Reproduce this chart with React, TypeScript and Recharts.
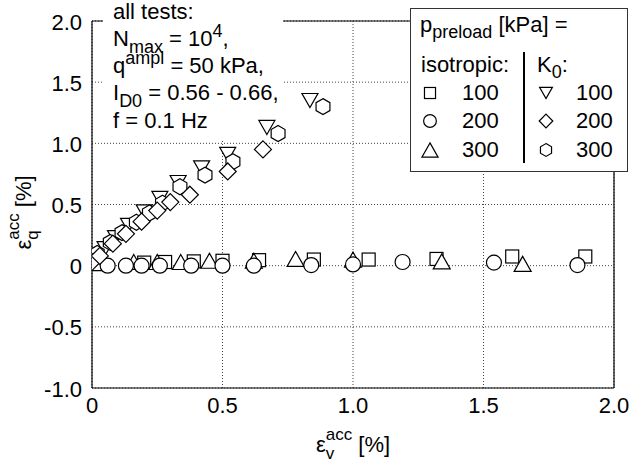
import React from 'react';
import { ScatterChart, Scatter, XAxis, YAxis, CartesianGrid, Label } from 'recharts';

const FONT = '"Liberation Sans", Arial, Helvetica, sans-serif';

const xTicks = [0, 0.5, 1, 1.5, 2];
const xTickLabels = ['0', '0.5', '1.0', '1.5', '2.0'];
const yTicks = [-1, -0.5, 0, 0.5, 1, 1.5, 2];
const yTickLabels = ['-1.0', '-0.5', '0', '0.5', '1.0', '1.5', '2.0'];

// isotropic preloading
const iso100: [number, number][] = [
  [0.03, 0.02], [0.2, 0.025], [0.28, 0.03], [0.39, 0.035], [0.5, 0.04], [0.64, 0.045],
  [0.85, 0.05], [1.06, 0.05], [1.32, 0.055], [1.61, 0.075], [1.89, 0.075],
];
const iso200: [number, number][] = [
  [0.06, 0.0], [0.13, 0.0], [0.19, 0.0], [0.26, 0.0], [0.38, 0.0], [0.5, 0.0],
  [0.62, 0.0], [0.84, 0.005], [1.0, 0.01], [1.19, 0.03], [1.54, 0.025], [1.86, 0.005],
];
const iso300: [number, number][] = [
  [0.02, 0.02], [0.16, 0.03], [0.25, 0.03], [0.34, 0.03], [0.45, 0.04], [0.62, 0.04],
  [0.78, 0.055], [1.0, 0.05], [1.34, 0.035], [1.65, 0.015],
];
// K0 preloading
const k0100: [number, number][] = [
  [0.01, 0.05], [0.05, 0.14], [0.09, 0.23], [0.14, 0.33], [0.2, 0.44], [0.26, 0.55],
  [0.33, 0.68], [0.42, 0.8], [0.52, 0.91], [0.67, 1.13], [0.835, 1.35],
];
const k0200: [number, number][] = [
  [0.0, 0.03], [0.03, 0.08], [0.08, 0.18], [0.13, 0.26], [0.19, 0.36], [0.25, 0.45],
  [0.3, 0.52], [0.375, 0.58], [0.52, 0.77], [0.655, 0.95],
];
const k0300: [number, number][] = [
  [0.02, 0.1], [0.07, 0.19], [0.115, 0.27], [0.17, 0.355], [0.22, 0.43], [0.27, 0.51],
  [0.337, 0.645], [0.433, 0.74], [0.54, 0.85], [0.713, 1.08], [0.885, 1.3],
];

const toPts = (a: [number, number][]) => a.map(([x, y]) => ({ x, y }));

type Kind = 'square' | 'circle' | 'triUp' | 'triDown' | 'diamond' | 'hexagon';
const SW = 1.2;

function Sym({ kind, cx, cy, s = 1 }: { kind: Kind; cx: number; cy: number; s?: number }) {
  const common = { fill: '#fff', stroke: '#000', strokeWidth: SW };
  switch (kind) {
    case 'square': {
      const h = 6.5 * s;
      return <rect x={cx - h} y={cy - h} width={2 * h} height={2 * h} {...common} />;
    }
    case 'circle':
      return <circle cx={cx} cy={cy} r={7.5 * s} {...common} />;
    case 'triUp': {
      const w = 8.5 * s, h = 7.5 * s;
      return <polygon points={`${cx},${cy - h} ${cx + w},${cy + h} ${cx - w},${cy + h}`} {...common} />;
    }
    case 'triDown': {
      const w = 8 * s, h = 7 * s;
      return <polygon points={`${cx - w},${cy - h} ${cx + w},${cy - h} ${cx},${cy + h}`} {...common} />;
    }
    case 'diamond': {
      const d = 8.5 * s;
      return <polygon points={`${cx},${cy - d} ${cx + d},${cy} ${cx},${cy + d} ${cx - d},${cy}`} {...common} />;
    }
    case 'hexagon': {
      const R = 8 * s;
      const pts = [0, 1, 2, 3, 4, 5]
        .map((i) => {
          const a = (Math.PI / 3) * i - Math.PI / 2;
          return `${cx + R * Math.cos(a)},${cy + R * Math.sin(a)}`;
        })
        .join(' ');
      return <polygon points={pts} {...common} />;
    }
  }
  return null;
}

const shapeOf = (kind: Kind) => (p: any) => <Sym kind={kind} cx={p.cx} cy={p.cy} />;

const XTick = (props: any) => {
  const { x, y, payload } = props;
  const i = xTicks.indexOf(payload.value);
  return (
    <text x={x} y={y + 16} textAnchor="middle" fontSize={22} fontFamily={FONT} fill="#000">
      {xTickLabels[i]}
    </text>
  );
};

const YTick = (props: any) => {
  const { x, y, payload } = props;
  const i = yTicks.indexOf(payload.value);
  return (
    <text x={x} y={y + 8.5} textAnchor="end" fontSize={22} fontFamily={FONT} fill="#000">
      {yTickLabels[i]}
    </text>
  );
};

const XAxisLabel = (props: any) => {
  const vb = props.viewBox || { x: 92, y: 388, width: 522, height: 40 };
  const cx = vb.x + vb.width / 2;
  const by = vb.y + 64;
  return (
    <text x={cx} y={by} textAnchor="middle" fontSize={22} fontFamily={FONT} fill="#000">
      ε<tspan dy={7} fontSize={17}>v</tspan>
      <tspan dx={-8.5} dy={-19} fontSize={17}>acc</tspan>
      <tspan dy={12} fontSize={22}> [%]</tspan>
    </text>
  );
};

const YAxisLabel = (props: any) => {
  const vb = props.viewBox || { x: 32, y: 21, width: 60, height: 367 };
  const bx = vb.x - 1;
  const cy = vb.y + vb.height / 2 + 8;
  return (
    <text
      x={bx}
      y={cy}
      transform={`rotate(-90 ${bx} ${cy})`}
      textAnchor="middle"
      fontSize={22}
      fontFamily={FONT}
      fill="#000"
    >
      ε<tspan dy={7} fontSize={17}>q</tspan>
      <tspan dx={-9.5} dy={-19} fontSize={17}>acc</tspan>
      <tspan dy={12} fontSize={22}> [%]</tspan>
    </text>
  );
};

const legendIso: { kind: Kind; label: string }[] = [
  { kind: 'square', label: '100' },
  { kind: 'circle', label: '200' },
  { kind: 'triUp', label: '300' },
];
const legendK0: { kind: Kind; label: string }[] = [
  { kind: 'triDown', label: '100' },
  { kind: 'diamond', label: '200' },
  { kind: 'hexagon', label: '300' },
];
const legendRowY = [93, 121, 150];
const legendTextY = [100, 128, 157];

const T = { fontSize: 22, fontFamily: FONT, fill: '#000' } as const;

function Overlay() {
  return (
    <svg width={630} height={463} style={{ display: 'block', pointerEvents: 'none' }}>
      {/* annotation */}
      <rect x={103} y={0} width={180} height={140} fill="#fff" />
      <text x={113} y={19} {...T}>all tests:</text>
      <text x={113} y={46} {...T}>
        N<tspan dy={7} fontSize={18}>max</tspan>
        <tspan dy={-7}> = 10</tspan>
        <tspan dy={-9} fontSize={18}>4</tspan>
        <tspan dy={9}>,</tspan>
      </text>
      <text x={113} y={73} {...T}>
        q<tspan dy={-9} fontSize={18}>ampl</tspan>
        <tspan dy={9}> = 50 kPa,</tspan>
      </text>
      <text x={113} y={100} {...T}>
        I<tspan dy={7} fontSize={18}>D0</tspan>
        <tspan dy={-7}> = 0.56 - 0.66,</tspan>
      </text>
      <text x={113} y={128} {...T}>f = 0.1 Hz</text>

      {/* legend */}
      <rect x={410.5} y={8.5} width={217} height={163} fill="#fff" stroke="#333" strokeWidth={1} />
      <text x={420} y={32} {...T}>
        p<tspan dy={6} fontSize={18}>preload</tspan>
        <tspan dy={-6}> [kPa] =</tspan>
      </text>
      <text x={421} y={72} {...T}>isotropic:</text>
      <text x={537} y={72} {...T}>
        K<tspan dy={6} fontSize={18}>0</tspan>
        <tspan dy={-6}>:</tspan>
      </text>
      <line x1={524} y1={52} x2={524} y2={163} stroke="#000" strokeWidth={2} />
      {legendIso.map((e, i) => (
        <g key={'i' + i}>
          <Sym kind={e.kind} cx={430} cy={legendRowY[i]} s={e.kind === 'triUp' ? 0.95 : 0.85} />
          <text x={462} y={legendTextY[i]} {...T}>{e.label}</text>
        </g>
      ))}
      {legendK0.map((e, i) => (
        <g key={'k' + i}>
          <Sym kind={e.kind} cx={546} cy={legendRowY[i]} s={0.8} />
          <text x={576} y={legendTextY[i]} {...T}>{e.label}</text>
        </g>
      ))}
    </svg>
  );
}

const axisStroke = { stroke: '#000', strokeWidth: 1.2 };
const layer: React.CSSProperties = { position: 'absolute', left: 0, top: 0, width: 630, height: 463 };

export default function App() {
  return (
    <div style={{ ...layer, background: '#fff' }}>
      {/* layer 1: frame, grid, ticks, axis labels */}
      <div style={layer}>
        <ScatterChart width={630} height={463} margin={{ top: 21, right: 16, bottom: 35, left: 32 }}>
          <CartesianGrid stroke="#444" strokeDasharray="1 2" strokeWidth={1} />
          <XAxis
            xAxisId={0}
            type="number"
            dataKey="x"
            domain={[0, 2]}
            ticks={xTicks}
            interval={0}
            height={40}
            tickSize={0}
            tickMargin={9}
            tickLine={false}
            axisLine={axisStroke}
            tick={<XTick />}
            allowDataOverflow
          >
            <Label content={(p: any) => <XAxisLabel {...p} />} />
          </XAxis>
          <XAxis
            xAxisId="xb"
            orientation="bottom"
            mirror
            type="number"
            domain={[0, 2]}
            ticks={xTicks}
            interval={0}
            tick={false}
            tickSize={8}
            tickLine={axisStroke}
            axisLine={false}
          />
          <XAxis
            xAxisId="xt"
            orientation="top"
            mirror
            type="number"
            domain={[0, 2]}
            ticks={xTicks}
            interval={0}
            tick={false}
            tickSize={8}
            tickLine={axisStroke}
            axisLine={axisStroke}
          />
          <YAxis
            yAxisId={0}
            type="number"
            dataKey="y"
            domain={[-1, 2]}
            ticks={yTicks}
            interval={0}
            width={60}
            tickSize={0}
            tickMargin={10}
            tickLine={false}
            axisLine={axisStroke}
            tick={<YTick />}
            allowDataOverflow
          >
            <Label content={(p: any) => <YAxisLabel {...p} />} />
          </YAxis>
          <YAxis
            yAxisId="yl"
            orientation="left"
            mirror
            type="number"
            domain={[-1, 2]}
            ticks={yTicks}
            interval={0}
            tick={false}
            tickSize={8}
            tickLine={axisStroke}
            axisLine={false}
          />
          <YAxis
            yAxisId="yr"
            orientation="right"
            mirror
            type="number"
            domain={[-1, 2]}
            ticks={yTicks}
            interval={0}
            tick={false}
            tickSize={8}
            tickLine={axisStroke}
            axisLine={axisStroke}
          />
        </ScatterChart>
      </div>
      {/* layer 2: annotation box and key */}
      <div style={layer}>
        <Overlay />
      </div>
      {/* layer 3: data points (drawn over the annotation box) */}
      <div style={layer}>
        <ScatterChart width={630} height={463} margin={{ top: 21, right: 16, bottom: 75, left: 92 }}>
          <XAxis type="number" dataKey="x" domain={[0, 2]} hide allowDataOverflow />
          <YAxis type="number" dataKey="y" domain={[-1, 2]} hide allowDataOverflow />
          <Scatter data={toPts(iso100)} shape={shapeOf('square')} isAnimationActive={false} />
          <Scatter data={toPts(iso300)} shape={shapeOf('triUp')} isAnimationActive={false} />
          <Scatter data={toPts(iso200)} shape={shapeOf('circle')} isAnimationActive={false} />
          <Scatter data={toPts(k0100)} shape={shapeOf('triDown')} isAnimationActive={false} />
          <Scatter data={toPts(k0300)} shape={shapeOf('hexagon')} isAnimationActive={false} />
          <Scatter data={toPts(k0200)} shape={shapeOf('diamond')} isAnimationActive={false} />
        </ScatterChart>
      </div>
    </div>
  );
}
